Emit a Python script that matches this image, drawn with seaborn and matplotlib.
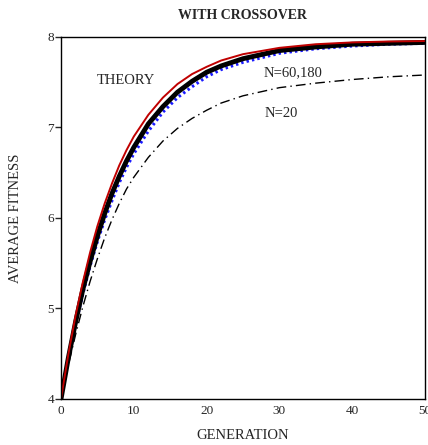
import numpy as np
import pandas as pd
import seaborn as sns
import matplotlib.pyplot as plt

generation = [0, 1, 2, 3, 4, 5, 6, 7, 8, 9, 10, 12, 14, 16, 18, 20, 22, 25, 30, 35, 40, 45, 50]

theory = [4.00, 4.49, 4.92, 5.29, 5.62, 5.91, 6.16, 6.38, 6.58, 6.75, 6.90, 7.14, 7.33,
          7.48, 7.59, 7.67, 7.74, 7.81, 7.88, 7.92, 7.94, 7.95, 7.955]
n180 = [4.00, 4.45, 4.85, 5.21, 5.52, 5.80, 6.05, 6.27, 6.46, 6.63, 6.78, 7.04, 7.23,
        7.39, 7.51, 7.61, 7.68, 7.76, 7.85, 7.89, 7.92, 7.93, 7.94]
n60 = [4.00, 4.43, 4.82, 5.16, 5.47, 5.74, 5.98, 6.19, 6.39, 6.56, 6.71, 6.96, 7.17,
       7.33, 7.45, 7.56, 7.64, 7.72, 7.82, 7.87, 7.90, 7.92, 7.93]
n20 = [4.00, 4.37, 4.71, 5.02, 5.30, 5.55, 5.78, 5.98, 6.16, 6.32, 6.45, 6.67, 6.85,
       6.99, 7.10, 7.19, 7.27, 7.35, 7.44, 7.49, 7.53, 7.56, 7.58]

df = pd.DataFrame({"gen": generation, "theory": theory, "n180": n180,
                   "n60": n60, "n20": n20})

sns.set_style("white")
plt.rcParams['font.family'] = ['Liberation Serif', 'DejaVu Serif']

fig = plt.figure(figsize=(4.28, 4.45), dpi=100)
ax = fig.add_axes([0.1425, 0.1034, 0.8505, 0.8135])

sns.lineplot(data=df, x="gen", y="n20", ax=ax, color="black", lw=1.0,
             linestyle=(0, (7, 3, 1, 3)))
sns.lineplot(data=df, x="gen", y="n60", ax=ax, color="#1a1aff", lw=2.2,
             linestyle=(0, (0.8, 1.0)))
sns.lineplot(data=df, x="gen", y="n180", ax=ax, color="black", lw=3.5)
sns.lineplot(data=df, x="gen", y="theory", ax=ax, color="#c00000", lw=1.4)

ax.set_xlim(0, 50)
ax.set_ylim(4, 8)
ax.set_xticks([0, 10, 20, 30, 40, 50])
ax.set_yticks([4, 5, 6, 7, 8])
ax.tick_params(axis="x", length=0, pad=4, labelsize=9.5)
ax.tick_params(axis="y", length=4, width=1, direction="out", pad=1, labelsize=9.5, left=True)
for s in ax.spines.values():
    s.set_color("black")
    s.set_linewidth(1.0)

ax.set_xlabel("GENERATION", fontsize=10.5, labelpad=9)
ax.set_ylabel("AVERAGE FITNESS", fontsize=10.5, labelpad=18)
ax.set_title("WITH CROSSOVER", fontsize=10, fontweight="bold", pad=13)

ax.text(8.9, 7.52, "THEORY", fontsize=10.5, ha="center", va="center")
ax.text(27.8, 7.61, "N=60,180", fontsize=10.5, ha="left", va="center")
ax.text(28.0, 7.15, "N=20", fontsize=10.5, ha="left", va="center")

fig.savefig("out.png", dpi=100)
